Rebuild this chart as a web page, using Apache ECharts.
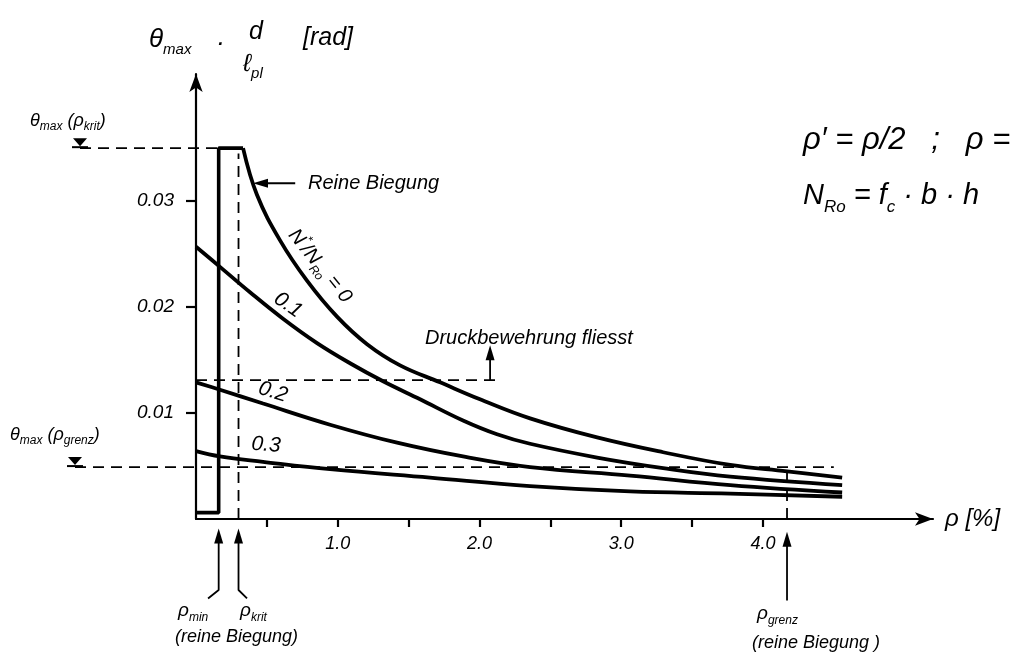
<!DOCTYPE html>
<html>
<head>
<meta charset="utf-8">
<script src="https://cdn.jsdelivr.net/npm/echarts@6/dist/echarts.min.js"></script>
<style>
  html, body { margin: 0; padding: 0; background: #ffffff; }
  #chart { width: 1029px; height: 657px; }
</style>
</head>
<body>
<div id="chart"></div>
<script>
// Rotation capacity θmax·d/ℓpl [rad] over reinforcement ratio ρ [%]
// for several axial load levels N*/NRo.

// Curve N*/NRo = 0 (reine Biegung)
const rhoN00 = [0.332, 0.43, 0.593, 0.783, 0.995, 1.207, 1.44, 1.722, 2.004, 2.357, 2.83, 3.296, 3.769, 4.171, 4.559];
const thetaN00 = [0.0350, 0.0306, 0.0263, 0.0225, 0.0191, 0.0165, 0.0145, 0.0129, 0.0113, 0.0095, 0.0077, 0.0063, 0.0051, 0.0045, 0.0039];

// Curve N*/NRo = 0.1
const rhoN01 = [0, 0.169, 0.381, 0.614, 0.854, 1.087, 1.32, 1.581, 1.884, 2.124, 2.357, 2.83, 3.296, 3.769, 4.559];
const thetaN01 = [0.0257, 0.0238, 0.0214, 0.0189, 0.0166, 0.0147, 0.0130, 0.0113, 0.0093, 0.0080, 0.0071, 0.0058, 0.0048, 0.0040, 0.0032];

// Curve N*/NRo = 0.2
const rhoN02 = [0, 0.169, 0.473, 0.946, 1.419, 1.884, 2.357, 3.063, 3.769, 4.559];
const thetaN02 = [0.0129, 0.0122, 0.0109, 0.0089, 0.0072, 0.0059, 0.0049, 0.0041, 0.0032, 0.0025];

// Curve N*/NRo = 0.3
const rhoN03 = [0, 0.169, 0.473, 0.946, 1.651, 2.357, 3.063, 3.769, 4.559];
const thetaN03 = [0.0064, 0.0059, 0.0054, 0.0047, 0.0039, 0.0031, 0.0026, 0.0024, 0.0021];

// Characteristic ratios and rotation levels
const rhoMin = 0.16;
const rhoKrit = 0.30;
const rhoGrenz = 4.17;
const thetaKrit = 0.035;
const thetaGrenz = 0.0049;
const thetaDruck = 0.0131;   // Druckbewehrung fliesst
const rhoDruckEnd = 2.15;
const rhoGrenzLineEnd = 4.5;
const thetaFloor = 0.0006;

// Axis ticks and labels
const xTicks = [0.5, 1, 1.5, 2, 2.5, 3, 3.5, 4];
const xTickLabels = [1, 2, 3, 4];
const yTicks = [0.01, 0.02, 0.03];

const FONT = '"Liberation Sans", "DejaVu Sans", sans-serif';
const INK = '#000000';
const DASH = [11, 7];

const zip = (xs, ys) => xs.map((x, i) => [x, ys[i]]);

function curve(name, xs, ys) {
  return {
    name, type: 'line', data: zip(xs, ys),
    smooth: 0.4,
    symbol: 'none', silent: true,
    lineStyle: { color: INK, width: 3.8 }
  };
}

function dashed(data) {
  return {
    type: 'line', data, clip: false, silent: true,
    symbol: 'none',
    lineStyle: { color: INK, width: 1.8, type: DASH }
  };
}

function arrowLine(data, width) {
  return {
    type: 'line', data, clip: false, silent: true,
    symbol: 'none', showSymbol: true,
    lineStyle: { color: INK, width: width || 1.8 },
    itemStyle: { color: INK }
  };
}

const tip = (x, y, rot) => ({ value: [x, y], symbol: 'triangle', symbolSize: [9, 15], symbolRotate: rot || 0 });

// Text helpers for the graphic layer
function richStyle(size, subSize) {
  return {
    b: { fontSize: size, fontStyle: 'italic', fontFamily: FONT, fill: INK, lineHeight: Math.round(size * 1.35) },
    s: { fontSize: subSize, fontStyle: 'italic', fontFamily: FONT, fill: INK, lineHeight: subSize, verticalAlign: 'bottom' },
    u: { fontSize: subSize, fontStyle: 'italic', fontFamily: FONT, fill: INK, lineHeight: subSize, verticalAlign: 'top' }
  };
}
function label(x, y, text, size, opt) {
  opt = opt || {};
  return {
    type: 'text', x, y, rotation: opt.rotation || 0, silent: true,
    style: {
      text, rich: richStyle(size, opt.sub || Math.round(size * 0.6)),
      fontSize: size, fontStyle: 'italic', fontFamily: FONT, fill: INK,
      align: opt.align || 'left', verticalAlign: 'middle'
    }
  };
}

const chart = echarts.init(document.getElementById('chart'), null, { renderer: 'canvas' });

chart.setOption({
  animation: false,
  backgroundColor: '#ffffff',
  grid: { left: 196, right: 96, top: 74, bottom: 138, containLabel: false },
  xAxis: {
    type: 'value', min: 0, max: 5.2,
    name: 'ρ [%]', nameLocation: 'end', nameGap: 12,
    nameTextStyle: { fontSize: 24, fontStyle: 'italic', fontFamily: FONT, color: INK, verticalAlign: 'middle' },
    axisLine: { show: true, symbol: ['none', 'arrow'], symbolSize: [10, 18], lineStyle: { color: INK, width: 2.2 } },
    axisTick: { show: true, customValues: xTicks, length: 8, lineStyle: { color: INK, width: 2.2 } },
    axisLabel: {
      show: true, customValues: xTickLabels, margin: 16,
      formatter: v => Number(v).toFixed(1),
      fontSize: 18, fontStyle: 'italic', fontFamily: FONT, color: INK
    },
    splitLine: { show: false }
  },
  yAxis: {
    type: 'value', min: 0, max: 0.042,
    axisLine: { show: true, symbol: ['none', 'arrow'], symbolSize: [10, 18], lineStyle: { color: INK, width: 2.2 } },
    axisTick: { show: true, customValues: yTicks, length: 10, lineStyle: { color: INK, width: 2.2 } },
    axisLabel: {
      show: true, customValues: yTicks, margin: 22,
      formatter: v => Number(v).toFixed(2),
      fontSize: 19, fontStyle: 'italic', fontFamily: FONT, color: INK
    },
    splitLine: { show: false }
  },
  series: [
    // ρmin / ρkrit envelope
    {
      type: 'line', silent: true, symbol: 'none',
      data: [[0, thetaFloor], [rhoMin, thetaFloor], [rhoMin, thetaKrit], [rhoN00[0], thetaKrit]],
      lineStyle: { color: INK, width: 3.6 }
    },
    curve('N*/NRo = 0', rhoN00, thetaN00),
    curve('N*/NRo = 0.1', rhoN01, thetaN01),
    curve('N*/NRo = 0.2', rhoN02, thetaN02),
    curve('N*/NRo = 0.3', rhoN03, thetaN03),

    // reference levels inside the plot
    dashed([[0, thetaDruck], [rhoDruckEnd, thetaDruck]]),
    dashed([[rhoKrit, 0], [rhoKrit, thetaKrit - 0.0005]]),
    dashed([[rhoGrenz, 0], [rhoGrenz, thetaGrenz - 0.0002]]),

    // arrows
    arrowLine([[rhoDruckEnd - 0.075, thetaDruck], tip(rhoDruckEnd - 0.075, 0.0157)]),
    arrowLine([[0.70, 0.0317], tip(0.455, 0.0317, 90)], 2),
    arrowLine([[rhoMin - 0.075, -0.0075], [rhoMin, -0.0067], tip(rhoMin, -0.0016)]),
    arrowLine([[rhoKrit + 0.06, -0.0075], [rhoKrit, -0.0067], tip(rhoKrit, -0.0016)]),
    arrowLine([[rhoGrenz, -0.0077], tip(rhoGrenz, -0.0019)])
  ]
});

// Level lines θmax(ρkrit) and θmax(ρgrenz) run out to the markers left of the axis
const px = (x, y) => chart.convertToPixel({ gridIndex: 0 }, [x, y]);
function levelMarker(xLeft, rhoEnd, theta) {
  const a = px(0, theta);
  const b = px(rhoEnd, theta);
  const y = a[1];
  return [
    { type: 'line', silent: true, shape: { x1: xLeft, y1: y, x2: b[0], y2: y },
      style: { stroke: INK, lineWidth: 1.8, lineDash: DASH } },
    { type: 'polygon', silent: true, shape: { points: [[xLeft - 7, y - 10], [xLeft + 7, y - 10], [xLeft, y - 2]] },
      style: { fill: INK } },
    { type: 'line', silent: true, shape: { x1: xLeft - 8, y1: y - 1, x2: xLeft + 8, y2: y - 1 },
      style: { stroke: INK, lineWidth: 2 } }
  ];
}

chart.setOption({
  graphic: [
    ...levelMarker(80, rhoMin, thetaKrit),
    ...levelMarker(75, rhoGrenzLineEnd, thetaGrenz),

    // y axis title θmax · d/ℓpl [rad]
    label(149, 40, '{b|θ}{s|max}', 26, { sub: 15 }),
    label(216, 44, '·', 26),
    label(256, 32, 'd', 25, { align: 'center' }),
    label(243, 64, '{b|ℓ}{s|pl}', 25, { sub: 15 }),
    label(303, 38, '[rad]', 25),

    // level labels on the left
    label(30, 121, '{b|θ}{s|max}{b| (ρ}{s|krit}{b|)}', 18, { sub: 12 }),
    label(10, 435, '{b|θ}{s|max}{b| (ρ}{s|grenz}{b|)}', 18, { sub: 12 }),

    // curve annotations
    label(308, 183, 'Reine Biegung', 20),
    label(320, 266, '{b|N}{u|*}{b|/N}{s|Ro}{b| = 0}', 20, { align: 'center', rotation: -0.887, sub: 12 }),
    label(288, 305, '0.1', 21, { align: 'center', rotation: -0.61 }),
    label(273, 392, '0.2', 21, { align: 'center', rotation: -0.3 }),
    label(266, 445, '0.3', 21, { align: 'center', rotation: -0.08 }),
    label(425, 338, 'Druckbewehrung fliesst', 20),

    // notes on the right
    label(803, 140, 'ρ′ = ρ/2   ;   ρ =', 31),
    label(803, 196, '{b|N}{s|Ro}{b| = f}{s|c}{b| · b · h}', 29, { sub: 17 }),

    // labels below the ρ axis
    label(178, 611, '{b|ρ}{s|min}', 19, { sub: 12 }),
    label(240, 611, '{b|ρ}{s|krit}', 19, { sub: 12 }),
    label(175, 637, '(reine Biegung)', 18),
    label(757, 614, '{b|ρ}{s|grenz}', 19, { sub: 12 }),
    label(752, 643, '(reine Biegung )', 18)
  ]
});
</script>
</body>
</html>
